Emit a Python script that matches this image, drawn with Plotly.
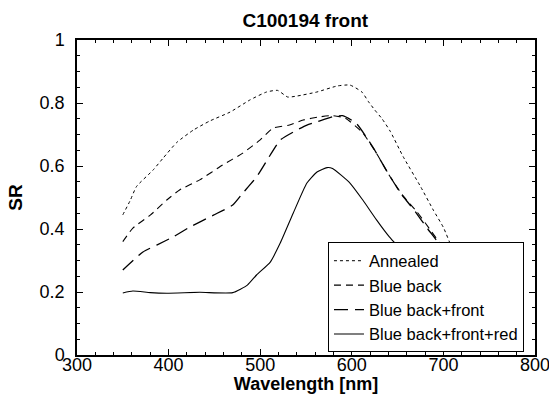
import plotly.graph_objects as go

# Data
annealed_x = [350, 358, 365, 383, 394, 409, 427, 445, 467, 489, 507, 519, 530, 540, 562, 584, 598, 611, 618, 625, 633, 642, 656, 675, 689, 700, 710, 725]
annealed_y = [0.445, 0.49, 0.535, 0.587, 0.625, 0.675, 0.714, 0.743, 0.771, 0.81, 0.835, 0.840, 0.819, 0.822, 0.835, 0.854, 0.857, 0.835, 0.805, 0.778, 0.75, 0.71, 0.63, 0.535, 0.46, 0.405, 0.335, 0.24]

blue_back_x = [350, 361, 380, 398, 412, 434, 459, 481, 500, 514, 532, 547, 565, 579, 593, 612, 627, 641, 656, 671, 685, 696, 715]
blue_back_y = [0.36, 0.403, 0.444, 0.492, 0.524, 0.556, 0.603, 0.641, 0.683, 0.72, 0.73, 0.746, 0.756, 0.76, 0.752, 0.705, 0.64, 0.57, 0.505, 0.455, 0.40, 0.355, 0.27]

bbf_x = [350, 372, 387, 405, 423, 449, 470, 481, 496, 511, 522, 540, 551, 562, 579, 590, 605, 623, 638, 653, 668, 683, 696, 712]
bbf_y = [0.27, 0.327, 0.349, 0.375, 0.406, 0.444, 0.476, 0.514, 0.565, 0.635, 0.683, 0.714, 0.73, 0.74, 0.756, 0.76, 0.735, 0.66, 0.585, 0.515, 0.46, 0.40, 0.35, 0.27]

bbfr_x = [350, 361, 380, 398, 434, 470, 486, 496, 511, 522, 536, 551, 562, 573, 579, 598, 612, 627, 641, 656, 675, 695]
bbfr_y = [0.197, 0.203, 0.198, 0.196, 0.199, 0.198, 0.222, 0.254, 0.295, 0.356, 0.45, 0.546, 0.581, 0.595, 0.592, 0.546, 0.492, 0.429, 0.375, 0.327, 0.26, 0.2]

series_names = ["Annealed", "Blue back", "Blue back+front", "Blue back+front+red"]
x_ticks = [300, 400, 500, 600, 700, 800]
y_ticks = [0, 0.2, 0.4, 0.6, 0.8, 1]
y_tick_labels = ["0", "0.2", "0.4", "0.6", "0.8", "1"]

FONT = "Liberation Sans, Arial, Helvetica, sans-serif"

fig = go.Figure()
series = [
    (annealed_x, annealed_y, "3px,3px", 1.0),
    (blue_back_x, blue_back_y, "7px,5px", 1.1),
    (bbf_x, bbf_y, "14px,7px", 1.3),
    (bbfr_x, bbfr_y, "solid", 1.1),
]
for (xs, ys, dash, w), name in zip(series, series_names):
    fig.add_trace(go.Scatter(
        x=xs, y=ys, mode="lines", name=name,
        line=dict(color="black", width=w, dash=dash, shape="spline", smoothing=0.5),
    ))

axis_common = dict(
    showline=True, linecolor="black", linewidth=1.5, mirror="ticks",
    ticks="inside", ticklen=6, tickwidth=1, tickcolor="black",
    showgrid=False, zeroline=False, automargin=False, ticklabeloverflow="allow",
    tickfont=dict(family=FONT, size=18, color="black"),
)

fig.update_xaxes(
    range=[300, 800], tickvals=x_ticks,
    minor=dict(dtick=20, ticks="inside", ticklen=3, tickcolor="black", showgrid=False),
    title=dict(text="<b>Wavelength [nm]</b>", font=dict(family=FONT, size=18, color="black"), standoff=2),
    ticklabelstandoff=-7,
    **axis_common,
)
fig.update_yaxes(
    range=[0, 1], tickvals=y_ticks, ticktext=y_tick_labels,
    minor=dict(dtick=0.05, ticks="inside", ticklen=3, tickcolor="black", showgrid=False),
    title=dict(text="<b>SR</b>", font=dict(family=FONT, size=19, color="black"), standoff=12),
    ticklabelstandoff=7,
    **axis_common,
)

fig.update_layout(
    width=549, height=394,
    margin=dict(l=77, r=14, t=40, b=39, autoexpand=False),
    paper_bgcolor="white", plot_bgcolor="white",
    title=dict(text="<b>C100194 front</b>", x=0.556, xanchor="center", y=0.948, yanchor="middle",
               font=dict(family=FONT, size=19, color="black")),
    showlegend=True,
    legend=dict(
        x=0.548, y=0.008, xanchor="left", yanchor="bottom",
        bgcolor="white", bordercolor="black", borderwidth=1,
        font=dict(family=FONT, size=16.5, color="black"),
        itemwidth=30, tracegroupgap=0,
    ),
)

fig.write_html("out.html", config={"displayModeBar": False},
               post_script="document.body.style.margin='0px';")
